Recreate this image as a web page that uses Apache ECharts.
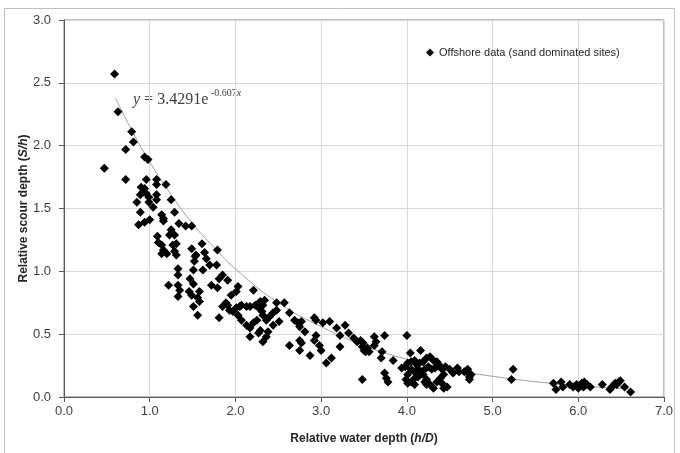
<!DOCTYPE html>
<html><head><meta charset="utf-8">
<script src="https://cdn.jsdelivr.net/npm/echarts@6/dist/echarts.min.js"></script>
<style>html,body{margin:0;padding:0;background:#fff}#c{width:680px;height:453px}</style>
</head><body><div id="c"></div>
<script>
// Relative water depth (h/D) vs relative scour depth (S/h)
const offshorePoints = [
[0.59,2.57],[0.63,2.27],[0.79,2.11],[0.81,2.03],[0.72,1.97],[0.94,1.91],[0.98,1.89],[0.47,1.82],[0.72,1.73],[0.96,1.73],
[1.08,1.73],[1.19,1.69],[1.08,1.69],[0.90,1.67],[0.94,1.66],[0.92,1.63],[0.96,1.62],[0.89,1.61],[0.99,1.59],[1.08,1.61],
[1.08,1.57],[1.25,1.57],[0.85,1.55],[0.99,1.55],[1.04,1.51],[0.89,1.47],[1.14,1.45],[1.16,1.42],[1.29,1.47],[1.00,1.41],
[0.94,1.39],[0.87,1.37],[1.16,1.40],[1.34,1.38],[1.42,1.36],[1.49,1.36],[1.25,1.33],[1.29,1.29],[1.23,1.29],[1.09,1.28],
[1.61,1.22],[1.10,1.23],[1.14,1.21],[1.31,1.22],[1.27,1.21],[1.49,1.18],[1.16,1.17],[1.20,1.14],[1.14,1.14],[1.29,1.16],
[1.31,1.13],[1.53,1.12],
[1.79,1.17],[1.64,1.15],[1.66,1.10],[1.54,1.13],[1.52,1.08],[1.70,1.05],[1.78,1.05],[1.62,1.01],[1.51,1.01],[1.33,1.02],
[1.33,0.97],[1.85,0.97],[1.91,0.93],[1.81,0.94],[1.47,0.94],[1.51,0.90],[1.22,0.89],[1.33,0.89],[1.35,0.85],[1.33,0.80],
[1.72,0.89],[1.79,0.87],[1.46,0.84],[1.49,0.81],[1.58,0.84],[1.56,0.79],[1.58,0.76],[1.51,0.72],[2.03,0.88],[2.01,0.84],
[1.95,0.81],[2.21,0.85],[1.89,0.75],[1.91,0.73],[1.85,0.72],[1.93,0.69],[1.97,0.68],[2.01,0.71],[2.05,0.72],[2.07,0.73],
[2.13,0.72],[2.17,0.72],[2.23,0.73],[2.27,0.71],[1.56,0.65],[1.81,0.63],[2.03,0.65],[2.07,0.61],[2.13,0.57],[2.17,0.55],
[2.21,0.59],[2.25,0.61],[2.17,0.48],[2.27,0.51],
[2.29,0.76],[2.34,0.77],[2.32,0.73],[2.48,0.75],[2.57,0.75],[2.31,0.68],[2.32,0.65],[2.36,0.61],[2.40,0.64],[2.44,0.67],
[2.48,0.69],[2.51,0.60],[2.44,0.57],[2.29,0.53],[2.38,0.52],[2.36,0.48],[2.32,0.44],[2.63,0.67],[2.69,0.61],[2.73,0.59],
[2.77,0.60],[2.75,0.56],[2.81,0.52],[2.92,0.63],[2.94,0.61],[3.02,0.59],[3.10,0.60],[3.18,0.55],[3.28,0.57],[3.32,0.51],
[3.22,0.49],[2.94,0.49],[2.92,0.45],[2.75,0.45],[2.77,0.43],[2.75,0.37],[2.63,0.41],[2.87,0.33],[2.98,0.41],[3.00,0.37],
[3.12,0.31],[3.06,0.27],[3.22,0.40],[3.38,0.47],[3.42,0.44],[3.46,0.45],[3.49,0.43],[3.48,0.40],[3.50,0.37],[3.52,0.36],
[3.48,0.14],
[3.54,0.39],[3.56,0.36],[3.62,0.48],[3.64,0.44],[3.62,0.41],[3.74,0.49],[4.00,0.49],[3.71,0.36],[3.70,0.31],[3.84,0.29],
[3.74,0.19],[3.76,0.15],[3.78,0.12],[4.04,0.35],[4.16,0.37],
[3.94,0.23],[3.98,0.24],[4.01,0.27],[4.05,0.28],[4.09,0.29],[4.11,0.26],[4.15,0.27],[4.19,0.28],[4.23,0.31],[4.27,0.32],
[4.31,0.29],[4.35,0.28],[4.37,0.26],[4.33,0.23],[4.29,0.22],[4.25,0.24],[4.21,0.22],[4.17,0.20],[4.13,0.22],[4.09,0.20],
[4.05,0.22],[4.01,0.18],[3.99,0.14],[4.05,0.12],[4.09,0.15],[4.13,0.16],[4.19,0.18],[4.23,0.14],[4.27,0.10],[4.31,0.07],
[4.35,0.12],[4.39,0.15],[4.43,0.18],[4.41,0.22],[4.45,0.24],[4.47,0.08],[4.43,0.07],
[4.50,0.22],[4.54,0.19],[4.59,0.23],[4.61,0.20],[4.67,0.20],[4.71,0.19],[4.73,0.16],[4.75,0.18],[4.73,0.14],[4.71,0.22],
[5.24,0.22],[5.22,0.14],[4.41,0.11],[4.01,0.11],[4.09,0.10],[4.21,0.12],[4.23,0.10],
[5.71,0.11],[5.74,0.06],[5.80,0.12],[5.82,0.08],[5.90,0.10],[5.94,0.08],[5.98,0.10],[6.00,0.07],[6.04,0.11],[6.06,0.08],
[6.10,0.10],[6.14,0.08],[6.07,0.12],[6.28,0.10],[6.37,0.06],[6.39,0.08],[6.43,0.11],[6.45,0.10],[6.47,0.12],[6.49,0.13],
[6.54,0.08],[6.61,0.04]
];
// Trend curve
const trendPoints = [
[0.6,2.38],[0.8,2.11],[1.0,1.87],[1.25,1.61],[1.5,1.38],[1.75,1.19],[2.0,1.02],[2.5,0.75],
[3.0,0.56],[3.5,0.41],[4.0,0.30],[4.5,0.22],[5.0,0.165],[5.5,0.122],[6.0,0.09],[6.6,0.063]
];
const xRange = {min: 0, max: 7, interval: 1};
const yRange = {min: 0, max: 3, interval: 0.5};
const legendLabel = 'Offshore data (sand dominated sites)';
const equationMain = '{i|y} = 3.4291e';
const equationSup = '-0.607{i|x}';

const FONT = '"Liberation Sans", Arial, sans-serif';
const SERIF = '"Liberation Serif", "Times New Roman", serif';
const chart = echarts.init(document.getElementById('c'), null, {renderer: 'canvas'});
const titleRich = {
  b: {fontFamily: FONT, fontSize: 12, fontWeight: 'bold', color: '#262626'},
  bi: {fontFamily: FONT, fontSize: 12, fontWeight: 'bold', fontStyle: 'italic', color: '#262626'}
};
chart.setOption({
  animation: false,
  backgroundColor: '#fff',
  grid: {left: 64, right: 16, top: 20, bottom: 56, show: true, borderColor: '#7f7f7f', borderWidth: 1, backgroundColor: 'transparent'},
  legend: {
    data: [{name: legendLabel, icon: 'diamond'}],
    left: 421, top: 42, itemWidth: 8, itemHeight: 8, itemGap: 4,
    textStyle: {fontFamily: FONT, fontSize: 11, color: '#262626'}
  },
  xAxis: {
    type: 'value', min: xRange.min, max: xRange.max, interval: xRange.interval,
    name: '{b|Relative water depth (}{bi|h/D}{b|)}',
    nameLocation: 'middle', nameGap: 36, nameMoveOverlap: false,
    nameTextStyle: {rich: titleRich},
    axisLine: {show: true, lineStyle: {color: '#595959'}},
    axisTick: {show: true, length: 5, lineStyle: {color: '#595959'}},
    axisLabel: {margin: 8, fontFamily: FONT, fontSize: 13, color: '#404040', formatter: v => v.toFixed(1)},
    splitLine: {show: true, lineStyle: {color: '#d9d9d9'}}
  },
  yAxis: {
    type: 'value', min: yRange.min, max: yRange.max, interval: yRange.interval,
    name: '{b|Relative scour depth (}{bi|S/h}{b|)}',
    nameLocation: 'middle', nameGap: 34, nameMoveOverlap: false,
    nameTextStyle: {rich: titleRich},
    axisLine: {show: true, lineStyle: {color: '#595959'}},
    axisTick: {show: true, length: 5, lineStyle: {color: '#595959'}},
    axisLabel: {margin: 13, fontFamily: FONT, fontSize: 13, color: '#404040', formatter: v => v.toFixed(1)},
    splitLine: {show: true, lineStyle: {color: '#d9d9d9'}}
  },
  series: [
    {
      type: 'line', name: 'trend', data: trendPoints, smooth: true, showSymbol: false, silent: true,
      lineStyle: {color: '#a0a0a0', width: 1}, z: 1
    },
    {
      type: 'scatter', name: legendLabel, data: offshorePoints, symbol: 'diamond', symbolSize: 9,
      itemStyle: {color: '#000', opacity: 1}, z: 3
    }
  ],
  graphic: [
    {type: 'rect', silent: true, z: -10, shape: {x: 4.5, y: 8.5, width: 670, height: 470},
     style: {fill: 'none', stroke: '#c0c0c0', lineWidth: 1}},
    {type: 'text', left: 133, top: 92, silent: true,
     style: {text: equationMain, fontFamily: SERIF, fontSize: 16, fill: '#404040',
             rich: {i: {fontFamily: SERIF, fontSize: 16, fontStyle: 'italic', fill: '#404040'}}}},
    {type: 'text', left: 211, top: 88, silent: true,
     style: {text: equationSup, fontFamily: SERIF, fontSize: 10, fill: '#404040',
             rich: {i: {fontFamily: SERIF, fontSize: 10, fontStyle: 'italic', fill: '#404040'}}}}
  ]
});
</script></body></html>
